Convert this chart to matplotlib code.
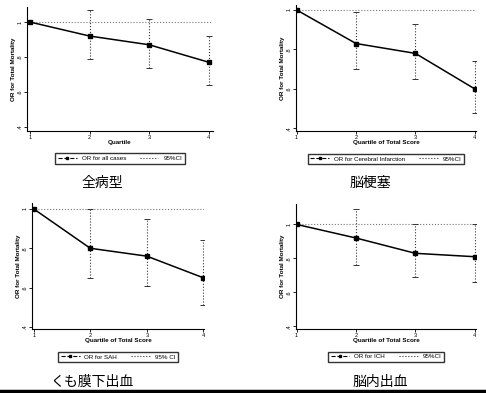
import matplotlib.pyplot as plt
from matplotlib.lines import Line2D

plt.rcParams.update({'font.family': ['Liberation Sans', 'DejaVu Sans'], 'font.size': 4})

quartiles = [1, 2, 3, 4]

# odds ratios and 95% CI per subtype
or_all = [1.0, 0.92, 0.87, 0.77]
lo_all = [1.0, 0.79, 0.74, 0.64]
hi_all = [1.0, 1.07, 1.02, 0.92]

or_ci = [1.0, 0.83, 0.78, 0.60]
lo_ci = [1.0, 0.70, 0.65, 0.48]
hi_ci = [1.0, 0.99, 0.93, 0.74]

or_sah = [1.0, 0.80, 0.76, 0.65]
lo_sah = [1.0, 0.65, 0.61, 0.51]
hi_sah = [1.0, 1.00, 0.95, 0.84]

or_ich = [1.0, 0.92, 0.83, 0.81]
lo_ich = [1.0, 0.76, 0.69, 0.66]
hi_ich = [1.0, 1.09, 1.00, 1.00]

y_ticks = [1.0, 0.8, 0.6, 0.4]
y_tick_labels = ['1', '.8', '.6', '.4']

panels = [
    # data, pixel box (left, right, top, bottom), ylim, xlim, xlabel, legend labels, caption, caption xy
    (or_all, lo_all, hi_all, (27, 213, 7, 131), (0.377, 1.086), (0.95, 4.07),
     'Quartile', 'OR for all cases', '95%CI', '全病型', (102, 183)),
    (or_ci, lo_ci, hi_ci, (296, 476, 5, 131), (0.387, 1.025), (0.99, 4.02),
     'Quartile of Total Score', 'OR for Cerebral Infarction', '95%CI', '脳梗塞', (370, 183)),
    (or_sah, lo_sah, hi_sah, (32, 204, 203, 329), (0.39, 1.03), (0.97, 4.01),
     'Quartile of Total Score', 'OR for SAH', '95% CI', 'くも膜下出血', (92, 382)),
    (or_ich, lo_ich, hi_ich, (296, 476, 204, 329), (0.385, 1.12), (0.99, 4.02),
     'Quartile of Total Score', 'OR for ICH', '95%CI', '脳内出血', (380, 382)),
]

W, H = 486, 393
fig = plt.figure(figsize=(W / 100, H / 100), dpi=100)

for (ors, lo, hi, box, ylim, xlim, xlabel, leg1, leg2, caption, cxy) in panels:
    l, r, t, b = box
    ax = fig.add_axes([l / W, 1 - b / H, (r - l) / W, (b - t) / H])
    ax.axhline(1.0, color='#777777', lw=0.8, ls=':')
    ax.vlines(quartiles[1:], lo[1:], hi[1:], color='#333333', lw=0.8, ls=':')
    ax.plot(quartiles[1:], lo[1:], ls='none', marker='_', ms=4, color='#333333', mew=0.7)
    ax.plot(quartiles[1:], hi[1:], ls='none', marker='_', ms=4, color='#333333', mew=0.7)
    ax.plot(quartiles, ors, color='black', lw=1.1, marker='s', ms=2.2)
    ax.set_xlim(*xlim)
    ax.set_ylim(*ylim)
    ax.set_xticks(quartiles)
    ax.set_yticks(y_ticks)
    ax.set_yticklabels(y_tick_labels, rotation=90, va='center')
    ax.tick_params(length=2, width=0.6, pad=1, labelsize=4)
    for s in ['top', 'right']:
        ax.spines[s].set_visible(False)
    for s in ['left', 'bottom']:
        ax.spines[s].set_linewidth(0.8)
    ax.set_xlabel(xlabel, fontsize=4.5, fontweight='bold', labelpad=0)
    ax.set_ylabel('OR for Total Mortality', fontsize=4.5, fontweight='bold', labelpad=1)
    handles = [
        Line2D([], [], color='black', lw=0.8, ls='--', marker='s', ms=2, markevery=[1]),
        Line2D([], [], color='#333333', lw=0.8, ls=':'),
    ]
    ax.legend(handles, [leg1, leg2], loc='upper center', bbox_to_anchor=(0.5, -0.155),
              ncol=2, frameon=True, fancybox=False, edgecolor='black', fontsize=4.5,
              handlelength=3, handletextpad=0.8, columnspacing=2.2, borderpad=0.4)
    fig.text(cxy[0] / W, 1 - cxy[1] / H, caption, ha='center', va='center', fontsize=10,
             family=['Noto Sans CJK JP', 'DejaVu Sans'])

fig.add_artist(Line2D([0, 1], [1 - 391 / H, 1 - 391 / H], color='black', lw=2.5,
                      transform=fig.transFigure))

fig.savefig('out.png', dpi=100)
